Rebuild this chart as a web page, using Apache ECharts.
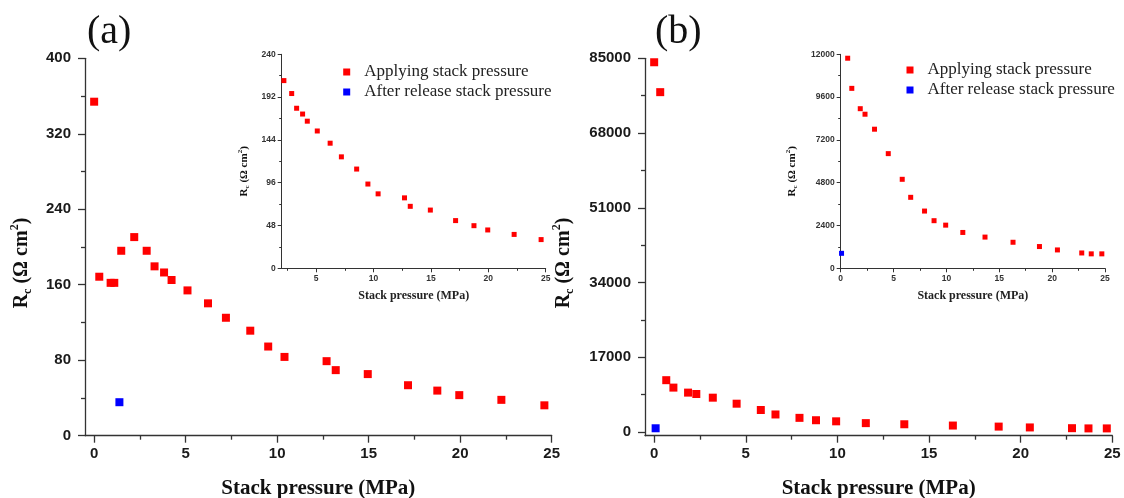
<!DOCTYPE html>
<html>
<head>
<meta charset="utf-8">
<script src="https://cdn.jsdelivr.net/npm/echarts@6/dist/echarts.min.js"></script>
<style>
html,body{margin:0;padding:0;background:#fff;}
#chart{width:1124px;height:498px;}
</style>
</head>
<body>
<div id="chart"></div>
<script>
// ---------- data ----------
const seriesNames = ['Applying stack pressure', 'After release stack pressure'];
const xAxisName = 'Stack pressure (MPa)';

const xTicks = [0, 5, 10, 15, 20, 25];
const insetAXTicks = [5, 10, 15, 20, 25];
const insetBXTicks = [0, 5, 10, 15, 20, 25];
const aYTicks = [0, 80, 160, 240, 320, 400];
const bYTicks = [0, 17000, 34000, 51000, 68000, 85000];
const aInsetYTicks = [0, 48, 96, 144, 192, 240];
const bInsetYTicks = [0, 2400, 4800, 7200, 9600, 12000];

// (a)
const aApplyX = [0, 0.28, 0.9, 1.1, 1.48, 2.19, 2.87, 3.3, 3.82, 4.23, 5.1, 6.22, 7.2, 8.53, 9.51, 10.4, 12.7, 13.2, 14.95, 17.15, 18.75, 19.95, 22.25, 24.6];
const aApplyY = [354, 168.5, 162, 162, 196, 210.5, 196, 179.5, 173, 165, 154, 140.3, 125, 111.3, 94.5, 83.5, 79, 69.5, 65.3, 53.5, 47.8, 43, 38, 32.2];
const aReleaseX = [1.38];
const aReleaseY = [35.5];

// (b)
const bApplyX = [0, 0.33, 0.66, 1.05, 1.85, 2.3, 3.2, 4.5, 5.82, 6.62, 7.93, 8.83, 9.93, 11.55, 13.65, 16.3, 18.8, 20.5, 22.8, 23.7, 24.7];
const bApplyY = [84100, 77300, 11780, 10090, 8950, 8640, 7800, 6430, 4990, 3980, 3210, 2670, 2420, 2010, 1750, 1460, 1220, 1030, 860, 810, 810];
const bReleaseX = [0.08];
const bReleaseY = [840];

// ---------- helpers ----------
const SANS = 'Liberation Sans';
const SERIF = 'Liberation Serif';
const AXIS_COLOR = '#333';
function mids(t) { const r = []; for (let i = 0; i < t.length - 1; i++) r.push((t[i] + t[i + 1]) / 2); return r; }
function pairs(xs, ys) { return xs.map((x, i) => [x, ys[i]]); }
const fmt = v => String(v);

function rName(big) {
  return {
    fontFamily: SERIF, fontWeight: 'bold', fontSize: big ? 20 : 11, color: '#111',
    lineHeight: big ? 25 : 14,
    padding: big ? [0, 32, 0, 0] : [0, 20, 0, 0],
    rich: {
      s: { fontFamily: SERIF, fontWeight: 'bold', fontSize: big ? 12 : 7, lineHeight: big ? 12 : 7, verticalAlign: 'bottom', color: '#111' },
      p: { fontFamily: SERIF, fontWeight: 'bold', fontSize: big ? 12 : 7, lineHeight: big ? 12 : 7, verticalAlign: 'top', color: '#111' }
    }
  };
}
const RC_NAME = 'R{s|c} (Ω cm{p|2})';

function axesPair(dim, cfg) {
  const major = {
    type: 'value', gridIndex: cfg.grid, min: cfg.min, max: cfg.max,
    position: dim === 'x' ? 'bottom' : 'left',
    axisLine: { show: true, onZero: false, lineStyle: { color: AXIS_COLOR, width: cfg.big ? 1.3 : 1 } },
    axisTick: { show: true, inside: false, length: cfg.big ? 7 : 4, customValues: cfg.ticks, lineStyle: { color: AXIS_COLOR, width: cfg.big ? 1.3 : 1 } },
    axisLabel: {
      customValues: cfg.ticks, formatter: fmt, fontFamily: SANS, fontWeight: 'bold',
      fontSize: cfg.big ? 15 : 8.5, color: cfg.big ? '#1a1a1a' : '#333', margin: cfg.margin
    },
    splitLine: { show: false },
    name: cfg.name, nameLocation: 'middle', nameGap: cfg.nameGap, nameTextStyle: cfg.nameStyle
  };
  const minor = {
    type: 'value', gridIndex: cfg.grid, min: cfg.min, max: cfg.max,
    position: dim === 'x' ? 'bottom' : 'left',
    axisLine: { show: false, onZero: false },
    axisTick: { show: true, inside: false, length: cfg.big ? 4 : 2.5, customValues: cfg.minor, lineStyle: { color: AXIS_COLOR, width: cfg.big ? 1.3 : 1 } },
    axisLabel: { show: false },
    splitLine: { show: false }
  };
  return [major, minor];
}

const bigX = { fontFamily: SERIF, fontWeight: 'bold', fontSize: 21, color: '#111' };
const smallX = { fontFamily: SERIF, fontWeight: 'bold', fontSize: 12, color: '#222' };

const xAxis = [].concat(
  axesPair('x', { grid: 0, min: -0.5, max: 25, ticks: xTicks, minor: mids(xTicks), big: true, margin: 11, name: xAxisName, nameGap: 42, nameStyle: bigX }),
  axesPair('x', { grid: 1, min: -0.5, max: 25, ticks: xTicks, minor: mids(xTicks), big: true, margin: 11, name: xAxisName, nameGap: 42, nameStyle: bigX }),
  axesPair('x', { grid: 2, min: 2, max: 25, ticks: insetAXTicks, minor: mids(xTicks), big: false, margin: 6, name: xAxisName, nameGap: 22, nameStyle: smallX }),
  axesPair('x', { grid: 3, min: 0, max: 25, ticks: insetBXTicks, minor: mids(insetBXTicks), big: false, margin: 6, name: xAxisName, nameGap: 22, nameStyle: smallX })
);
const yAxis = [].concat(
  axesPair('y', { grid: 0, min: 0, max: 400, ticks: aYTicks, minor: mids(aYTicks), big: true, margin: 14, name: RC_NAME, nameGap: 51, nameStyle: rName(true) }),
  axesPair('y', { grid: 1, min: -850, max: 85000, ticks: bYTicks, minor: mids(bYTicks), big: true, margin: 14, name: RC_NAME, nameGap: 69, nameStyle: rName(true) }),
  axesPair('y', { grid: 2, min: 0, max: 240, ticks: aInsetYTicks, minor: mids(aInsetYTicks), big: false, margin: 6, name: RC_NAME, nameGap: 31, nameStyle: rName(false) }),
  axesPair('y', { grid: 3, min: 0, max: 12000, ticks: bInsetYTicks, minor: mids(bInsetYTicks), big: false, margin: 6, name: RC_NAME, nameGap: 42, nameStyle: rName(false) })
);

function scatter(name, data, axisIdx, color, size) {
  return {
    type: 'scatter', name: name, data: data, xAxisIndex: axisIdx, yAxisIndex: axisIdx,
    symbol: 'rect', symbolSize: size, itemStyle: { color: color, opacity: 1 }, clip: true,
    emphasis: { disabled: true }, z: 3
  };
}

const series = [
  scatter(seriesNames[0], pairs(aApplyX, aApplyY), 0, '#ff0000', 8),
  scatter(seriesNames[1], pairs(aReleaseX, aReleaseY), 0, '#0000ff', 8),
  scatter(seriesNames[0], pairs(bApplyX, bApplyY), 2, '#ff0000', 8),
  scatter(seriesNames[1], pairs(bReleaseX, bReleaseY), 2, '#0000ff', 8),
  scatter(seriesNames[0], pairs(aApplyX, aApplyY), 4, '#ff0000', 5),
  scatter(seriesNames[1], pairs(aReleaseX, aReleaseY), 4, '#0000ff', 5),
  scatter(seriesNames[0], pairs(bApplyX, bApplyY), 6, '#ff0000', 5),
  scatter(seriesNames[1], pairs(bReleaseX, bReleaseY), 6, '#0000ff', 5)
];

function legend(left, top) {
  return {
    left: left, top: top, orient: 'vertical', icon: 'rect', itemWidth: 7, itemHeight: 7, itemGap: 0,
    selectedMode: false,
    textStyle: { fontFamily: SERIF, fontSize: 17, color: '#222', lineHeight: 20, padding: [0, 0, 0, 9] },
    data: seriesNames.slice()
  };
}

const gridBase = { outerBoundsMode: 'none', containLabel: false };
const option = {
  animation: false,
  backgroundColor: '#fff',
  title: [
    { text: '(a)', left: 87, top: 12, padding: 0, textStyle: { fontFamily: SERIF, fontWeight: 'normal', fontSize: 40, color: '#111' } },
    { text: '(b)', left: 655, top: 12, padding: 0, textStyle: { fontFamily: SERIF, fontWeight: 'normal', fontSize: 40, color: '#111' } }
  ],
  grid: [
    Object.assign({ left: 85, top: 58.3, width: 466.7, height: 377.4 }, gridBase),
    Object.assign({ left: 645, top: 58.3, width: 467.3, height: 377.4 }, gridBase),
    Object.assign({ left: 281.7, top: 54.3, width: 264, height: 214 }, gridBase),
    Object.assign({ left: 840.7, top: 54.3, width: 264.3, height: 214 }, gridBase)
  ],
  legend: [legend(338.2, 57), legend(901.5, 55)],
  xAxis: xAxis,
  yAxis: yAxis,
  series: series
};

const chart = echarts.init(document.getElementById('chart'), null, { renderer: 'canvas' });
chart.setOption(option);
</script>
</body>
</html>
